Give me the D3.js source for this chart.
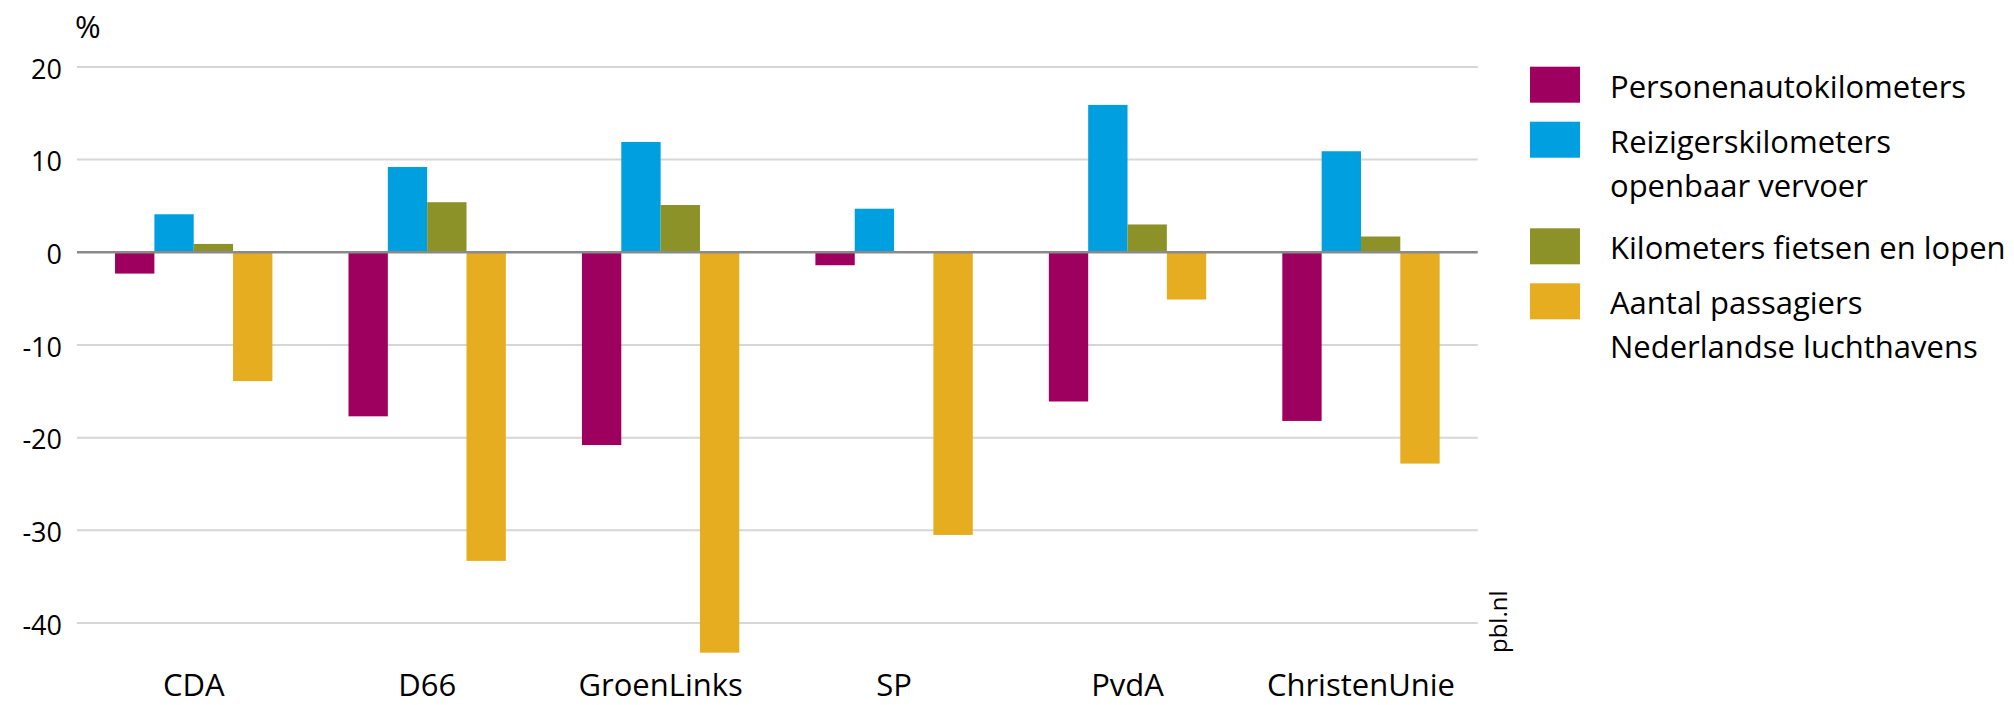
<!DOCTYPE html>
<html>
<head>
<meta charset="utf-8">
<script src="https://cdn.jsdelivr.net/npm/d3@7"></script>
<style>
  html, body { margin: 0; padding: 0; background: #fff; }
  svg { display: block; }
  text { font-family: "Open Sans", "Noto Sans", sans-serif; fill: #000; }
</style>
</head>
<body>
<svg id="chart" width="2014" height="705"></svg>
<script>
// ---- data ----
const categories = ["CDA", "D66", "GroenLinks", "SP", "PvdA", "ChristenUnie"];
const seriesNames = [
  "Personenautokilometers",
  "Reizigerskilometers openbaar vervoer",
  "Kilometers fietsen en lopen",
  "Aantal passagiers Nederlandse luchthavens"
];
const legendLines = [
  ["Personenautokilometers"],
  ["Reizigerskilometers", "openbaar vervoer"],
  ["Kilometers fietsen en lopen"],
  ["Aantal passagiers", "Nederlandse luchthavens"]
];
const personenauto   = [-2.3, -17.7, -20.8, -1.4, -16.1, -18.2];
const reizigersOV    = [4.1, 9.2, 11.9, 4.7, 15.9, 10.9];
const fietsenLopen   = [0.9, 5.4, 5.1, 0.0, 3.0, 1.7];
const passagiers     = [-13.9, -33.3, -43.2, -30.5, -5.1, -22.8];
const yTicks = [-40, -30, -20, -10, 0, 10, 20];
const colors = ["#9e0060", "#009fe0", "#8c9227", "#e5ad1f"];

const seriesValues = [personenauto, reizigersOV, fietsenLopen, passagiers];

// ---- layout ----
const svg = d3.select("#chart");
const left = 77, right = 1477.7;

const x0 = d3.scaleBand().domain(categories).range([left, right])
  .paddingInner(0.326).paddingOuter(0.163);
const x1 = d3.scaleBand().domain(d3.range(seriesNames.length)).range([0, x0.bandwidth()]).padding(0);
const y = d3.scaleLinear().domain([-40, 20]).range([623, 66.9]);

// gridlines
const grid = svg.append("g");
grid.selectAll("line").data(yTicks.filter(d => d !== 0)).join("line")
  .attr("x1", left).attr("x2", right)
  .attr("y1", d => y(d)).attr("y2", d => y(d))
  .attr("stroke", "#d6d6d6").attr("stroke-width", 2);

// y axis labels
const yAxis = d3.axisLeft(y).tickValues(yTicks).tickSize(0).tickPadding(15).tickFormat(d => String(d));
const yg = svg.append("g").attr("transform", `translate(${left},0)`).call(yAxis);
yg.select(".domain").remove();
yg.selectAll("text").attr("font-size", 27).attr("dy", "0.42em")
  .style("font-family", '"Open Sans", sans-serif').attr("fill", "#000");

svg.append("text").attr("x", left - 2).attr("y", 38).attr("font-size", 31).text("%");

// bars
const groups = svg.append("g").selectAll("g").data(categories).join("g")
  .attr("transform", d => `translate(${x0(d)},0)`);
groups.selectAll("rect")
  .data((c, ci) => seriesValues.map((vals, si) => ({ si, v: vals[ci] })))
  .join("rect")
  .attr("x", d => x1(d.si))
  .attr("width", x1.bandwidth())
  .attr("y", d => y(Math.max(0, d.v)))
  .attr("height", d => Math.abs(y(d.v) - y(0)))
  .attr("fill", d => colors[d.si]);

// zero line
svg.append("line").attr("x1", left).attr("x2", right)
  .attr("y1", y(0)).attr("y2", y(0))
  .attr("stroke", "#8a8a8a").attr("stroke-width", 2.5);

// x axis labels
const xAxis = d3.axisBottom(x0).tickSize(0).tickPadding(0);
const xg = svg.append("g").attr("transform", `translate(0,696)`).call(xAxis);
xg.select(".domain").remove();
xg.selectAll("text").attr("font-size", 31).attr("dy", 0)
  .style("font-family", '"Open Sans", sans-serif').attr("fill", "#000");

// source
svg.append("text")
  .attr("transform", "translate(1507,653) rotate(-90)")
  .attr("font-size", 24).attr("fill", "#777").text("pbl.nl");

// legend
let ly = 66.7;
const lg = svg.append("g");
legendLines.forEach((lines, i) => {
  lg.append("rect").attr("x", 1530).attr("y", ly).attr("width", 50).attr("height", 36)
    .attr("fill", colors[i]);
  lines.forEach((t, j) => {
    lg.append("text").attr("x", 1610).attr("y", ly + 31 + j * 44)
      .attr("font-size", 31).text(t);
  });
  ly += 55 + (lines.length - 1) * 51.6;
});
</script>
</body>
</html>
